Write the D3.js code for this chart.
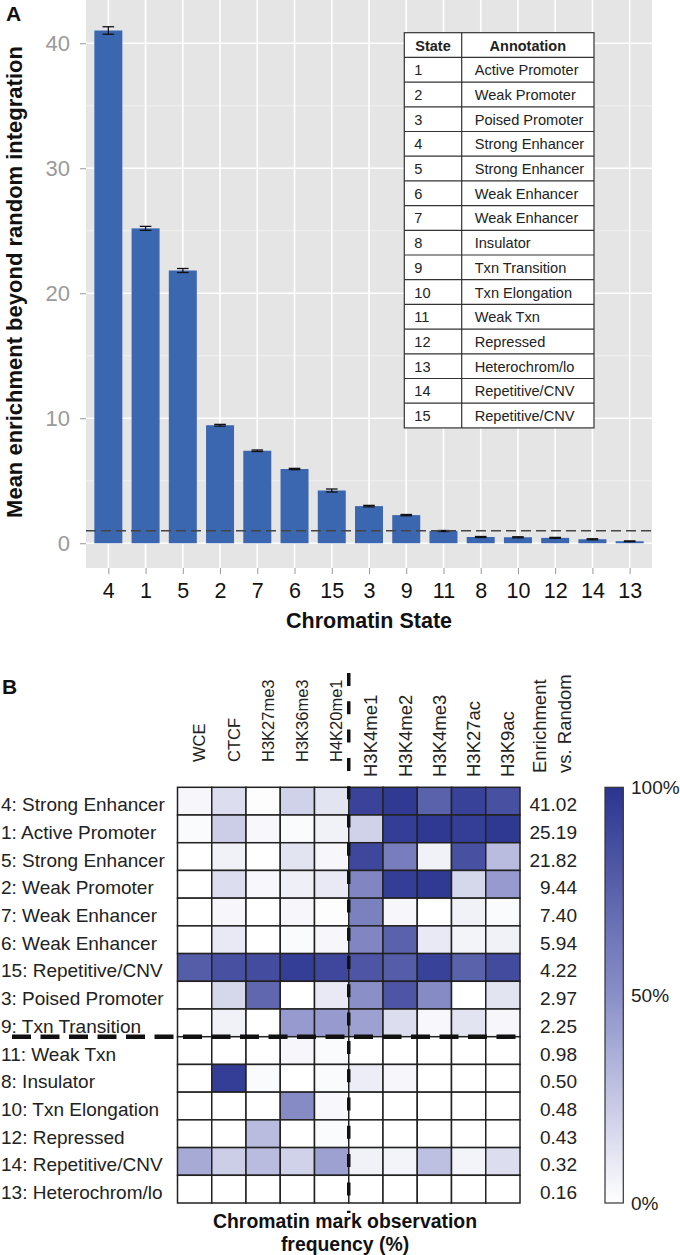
<!DOCTYPE html>
<html><head><meta charset="utf-8">
<script src="https://cdn.jsdelivr.net/npm/d3@7/dist/d3.min.js"></script>
<style>
body{margin:0;background:#fff;}
svg{display:block;font-family:"Liberation Sans",Arial,Helvetica,sans-serif;}
</style>
</head><body>
<svg id="c" width="680" height="1255"></svg>
<script>
// ---------- data ----------
const stateOrder = [4,1,5,2,7,6,15,3,9,11,8,10,12,14,13];
const enrichment = [41.02,25.19,21.82,9.44,7.40,5.94,4.22,2.97,2.25,0.98,0.50,0.48,0.43,0.32,0.16];
const enrichmentErr = [0.30,0.16,0.16,0.07,0.06,0.05,0.12,0.06,0.05,0.04,0.04,0.04,0.04,0.04,0.03];
const yTicks = [0,10,20,30,40];
const yMinorTicks = [5,15,25,35];
const baseline = 1;
const tableStates = [1,2,3,4,5,6,7,8,9,10,11,12,13,14,15];
const annotations = ["Active Promoter","Weak Promoter","Poised Promoter","Strong Enhancer","Strong Enhancer",
  "Weak Enhancer","Weak Enhancer","Insulator","Txn Transition","Txn Elongation","Weak Txn","Repressed",
  "Heterochrom/lo","Repetitive/CNV","Repetitive/CNV"];
const marks = ["WCE","CTCF","H3K27me3","H3K36me3","H4K20me1","H3K4me1","H3K4me2","H3K4me3","H3K27ac","H3K9ac"];
// observation frequency (0-1), rows follow stateOrder, columns follow marks
const markFrequency = [
  [0.04,0.15,0.01,0.20,0.12,0.92,0.97,0.75,0.93,0.85],
  [0.02,0.22,0.03,0.02,0.06,0.20,0.95,0.98,0.95,0.98],
  [0.00,0.06,0.00,0.12,0.04,0.90,0.60,0.06,0.85,0.30],
  [0.00,0.15,0.03,0.07,0.10,0.55,0.95,0.97,0.18,0.45],
  [0.00,0.04,0.00,0.04,0.01,0.58,0.04,0.00,0.06,0.02],
  [0.00,0.10,0.00,0.02,0.04,0.55,0.75,0.10,0.05,0.06],
  [0.78,0.85,0.87,0.95,0.90,0.82,0.78,0.93,0.75,0.88],
  [0.00,0.18,0.72,0.00,0.10,0.50,0.82,0.52,0.00,0.12],
  [0.00,0.06,0.00,0.45,0.45,0.42,0.15,0.03,0.12,0.04],
  [0.00,0.00,0.00,0.04,0.02,0.00,0.00,0.00,0.00,0.00],
  [0.00,0.95,0.02,0.00,0.02,0.08,0.04,0.00,0.00,0.00],
  [0.00,0.00,0.00,0.52,0.03,0.00,0.00,0.00,0.00,0.00],
  [0.00,0.00,0.30,0.00,0.02,0.00,0.00,0.00,0.00,0.00],
  [0.38,0.22,0.30,0.20,0.42,0.06,0.05,0.28,0.05,0.15],
  [0.00,0.00,0.00,0.00,0.00,0.00,0.00,0.00,0.00,0.00]
];
const legendTicks = [0,0.5,1];
const legendLabels = ["0%","50%","100%"];
const splitAfterRow = 9;   // dashed line below "9: Txn Transition"
const splitBeforeMark = "H3K4me1";

// ---------- drawing ----------
const svg = d3.select("#c");
const BAR = "#3b66b0", PANEL = "#e5e5e5";

// Panel A
const pA = {l:86, r:652, t:0, b:568};
const x = d3.scalePoint().domain(stateOrder).range([pA.l,pA.r]).padding(0.6);
const y = d3.scaleLinear().domain([-1.98,43.46]).range([pA.b,pA.t]);
const gA = svg.append("g");
gA.append("rect").attr("x",pA.l).attr("y",pA.t).attr("width",pA.r-pA.l).attr("height",pA.b-pA.t).attr("fill",PANEL);
gA.selectAll(".ymin").data(yMinorTicks).join("line")
  .attr("x1",pA.l).attr("x2",pA.r).attr("y1",d=>y(d)).attr("y2",d=>y(d))
  .attr("stroke","#f2f2f2").attr("stroke-width",0.8);
gA.selectAll(".ymaj").data(yTicks).join("line")
  .attr("x1",pA.l).attr("x2",pA.r).attr("y1",d=>y(d)).attr("y2",d=>y(d))
  .attr("stroke","#fff").attr("stroke-width",1.6);
gA.selectAll(".xmaj").data(stateOrder).join("line")
  .attr("x1",d=>x(d)).attr("x2",d=>x(d)).attr("y1",pA.t).attr("y2",pA.b)
  .attr("stroke","#fff").attr("stroke-width",1.6);
const bw = 28;
gA.selectAll(".bar").data(stateOrder).join("rect")
  .attr("x",d=>x(d)-bw/2).attr("width",bw)
  .attr("y",(d,i)=>y(enrichment[i])).attr("height",(d,i)=>y(0)-y(enrichment[i]))
  .attr("fill",BAR);
const eb = gA.selectAll(".eb").data(stateOrder).join("g").attr("stroke","#111").attr("stroke-width",1.3);
eb.append("line").attr("x1",d=>x(d)).attr("x2",d=>x(d))
  .attr("y1",(d,i)=>y(enrichment[i]+enrichmentErr[i])).attr("y2",(d,i)=>y(enrichment[i]-enrichmentErr[i]));
eb.append("line").attr("x1",d=>x(d)-5.8).attr("x2",d=>x(d)+5.8)
  .attr("y1",(d,i)=>y(enrichment[i]+enrichmentErr[i])).attr("y2",(d,i)=>y(enrichment[i]+enrichmentErr[i]));
eb.append("line").attr("x1",d=>x(d)-5.8).attr("x2",d=>x(d)+5.8)
  .attr("y1",(d,i)=>y(enrichment[i]-enrichmentErr[i])).attr("y2",(d,i)=>y(enrichment[i]-enrichmentErr[i]));
gA.append("line").attr("x1",pA.l).attr("x2",pA.r).attr("y1",y(baseline)).attr("y2",y(baseline))
  .attr("stroke","#444").attr("stroke-width",1.5).attr("stroke-dasharray","10,5");

const yAx = gA.append("g").attr("transform",`translate(${pA.l},0)`)
  .call(d3.axisLeft(y).tickValues(yTicks).tickSize(6).tickPadding(10));
yAx.select(".domain").remove();
yAx.selectAll("line").attr("stroke","#999");
yAx.selectAll("text").attr("fill","#9a9a9a").attr("font-size",22).attr("font-family","Liberation Sans, Arial, sans-serif");
const xAx = gA.append("g").attr("transform",`translate(0,${pA.b})`)
  .call(d3.axisBottom(x).tickSize(6).tickPadding(9));
xAx.select(".domain").remove();
xAx.selectAll("line").attr("stroke","#999");
xAx.selectAll("text").attr("fill","#111").attr("font-size",21.5).attr("font-family","Liberation Sans, Arial, sans-serif");

svg.append("text").attr("x",(pA.l+pA.r)/2).attr("y",628).attr("text-anchor","middle")
  .attr("font-weight","bold").attr("font-size",21.5).attr("fill","#111").text("Chromatin State");
svg.append("text").attr("transform","translate(22,282) rotate(-90)").attr("text-anchor","middle")
  .attr("font-weight","bold").attr("font-size",22).attr("fill","#111").text("Mean enrichment beyond random integration");
svg.append("text").attr("x",6).attr("y",21).attr("font-weight","bold").attr("font-size",21).attr("fill","#111").text("A");

// table
const tb = {l:404.3, m:461.7, r:594, t:32.7, rh:24.7};
const gT = svg.append("g");
const nRows = tableStates.length+1;
gT.append("rect").attr("x",tb.l).attr("y",tb.t).attr("width",tb.r-tb.l).attr("height",nRows*tb.rh)
  .attr("fill","#fff").attr("stroke","#333").attr("stroke-width",1.2);
gT.selectAll(".hl").data(d3.range(1,nRows)).join("line")
  .attr("x1",tb.l).attr("x2",tb.r).attr("y1",d=>tb.t+d*tb.rh).attr("y2",d=>tb.t+d*tb.rh)
  .attr("stroke","#333").attr("stroke-width",1.2);
gT.append("line").attr("x1",tb.m).attr("x2",tb.m).attr("y1",tb.t).attr("y2",tb.t+nRows*tb.rh)
  .attr("stroke","#333").attr("stroke-width",1.2);
gT.append("text").attr("x",(tb.l+tb.m)/2).attr("y",tb.t+tb.rh/2+5.5).attr("text-anchor","middle")
  .attr("font-weight","bold").attr("font-size",14.5).attr("fill","#222").text("State");
gT.append("text").attr("x",(tb.m+tb.r)/2).attr("y",tb.t+tb.rh/2+5.5).attr("text-anchor","middle")
  .attr("font-weight","bold").attr("font-size",14.5).attr("fill","#222").text("Annotation");
gT.selectAll(".ts").data(tableStates).join("text")
  .attr("x",tb.l+10).attr("y",(d,i)=>tb.t+(i+1.5)*tb.rh+5.5)
  .attr("font-size",14.6).attr("fill","#222").text(d=>d);
gT.selectAll(".ta").data(tableStates).join("text")
  .attr("x",tb.m+13).attr("y",(d,i)=>tb.t+(i+1.5)*tb.rh+5.5)
  .attr("font-size",14.6).attr("fill","#222").text(d=>annotations[d-1]);

// Panel B
const hm = {l:177.5, r:520, t:787.3, b:1203};
const xh = d3.scaleBand().domain(marks).range([hm.l,hm.r]);
const yh = d3.scaleBand().domain(stateOrder).range([hm.t,hm.b]);
const color = d3.scaleLinear().domain([0,0.5,1]).range(["#ffffff","#8a8fc8","#2b3590"]);
const gB = svg.append("g");
stateOrder.forEach((s,i)=>{
  gB.selectAll(null).data(marks).join("rect")
    .attr("x",m=>xh(m)).attr("y",yh(s)).attr("width",xh.bandwidth()).attr("height",yh.bandwidth())
    .attr("fill",(m,j)=>color(markFrequency[i][j])).attr("stroke","#222").attr("stroke-width",1.5);
});
// row labels
gB.selectAll(".rl").data(stateOrder).join("text")
  .attr("x",1).attr("y",d=>yh(d)+yh.bandwidth()/2+10)
  .attr("font-size",19).attr("fill","#222").text(d=>`${d}: ${annotations[d-1]}`);
// enrichment values
gB.selectAll(".ev").data(stateOrder).join("text")
  .attr("x",577).attr("y",d=>yh(d)+yh.bandwidth()/2+10).attr("text-anchor","end")
  .attr("font-size",19).attr("fill","#222").text((d,i)=>enrichment[i].toFixed(2));
// column labels
const splitIdx = marks.indexOf(splitBeforeMark);
gB.selectAll(".cl").data(marks).join("text")
  .attr("transform",(m,j)=>{
    const cx = xh(m)+xh.bandwidth()/2+5;
    const by = j<splitIdx ? 762 : 777;
    return `translate(${cx},${by}) rotate(-90)`;})
  .attr("dy","0.35em")
  .attr("font-size",(m,j)=>j<splitIdx?16.5:18.5).attr("fill","#222").text(m=>m);
svg.append("text").attr("transform","translate(539.5,773) rotate(-90)").attr("dy","0.35em")
  .attr("font-size",18.5).attr("fill","#222").text("Enrichment");
svg.append("text").attr("transform","translate(564.5,773) rotate(-90)").attr("dy","0.35em")
  .attr("font-size",18.5).attr("fill","#222").text("vs. Random");
// dashed split lines
const ySplit = yh(stateOrder[splitAfterRow-1])+yh.bandwidth();
gB.append("line").attr("x1",12).attr("x2",hm.r).attr("y1",ySplit).attr("y2",ySplit)
  .attr("stroke","#111").attr("stroke-width",4.5).attr("stroke-dasharray","19,9.5");
const xSplit = xh(splitBeforeMark);
gB.append("line").attr("x1",xSplit).attr("x2",xSplit).attr("y1",673).attr("y2",1213)
  .attr("stroke","#111").attr("stroke-width",3.5).attr("stroke-dasharray","13,15.3");
// titles
svg.append("text").attr("x",345).attr("y",1228).attr("text-anchor","middle")
  .attr("font-weight","bold").attr("font-size",19.4).attr("fill","#111").text("Chromatin mark observation");
svg.append("text").attr("x",345).attr("y",1251).attr("text-anchor","middle")
  .attr("font-weight","bold").attr("font-size",19.4).attr("fill","#111").text("frequency (%)");
svg.append("text").attr("x",2).attr("y",694).attr("font-weight","bold").attr("font-size",21).attr("fill","#111").text("B");

// colour bar
const yl = d3.scaleLinear().domain([0,1]).range([hm.b,hm.t]);
const grad = svg.append("defs").append("linearGradient").attr("id","cb")
  .attr("x1",0).attr("y1",1).attr("x2",0).attr("y2",0);
d3.range(0,1.0001,0.05).forEach(t=>grad.append("stop").attr("offset",t).attr("stop-color",color(t)));
svg.append("rect").attr("x",605).attr("y",yl(1)).attr("width",18.3).attr("height",yl(0)-yl(1))
  .attr("fill","url(#cb)").attr("stroke","#333").attr("stroke-width",1.2);
svg.selectAll(".lt").data(legendTicks).join("text")
  .attr("x",631).attr("y",d=>yl(d)).attr("dy","0.35em")
  .attr("font-size",19).attr("fill","#222").text((d,i)=>legendLabels[i]);
</script>
</body></html>
